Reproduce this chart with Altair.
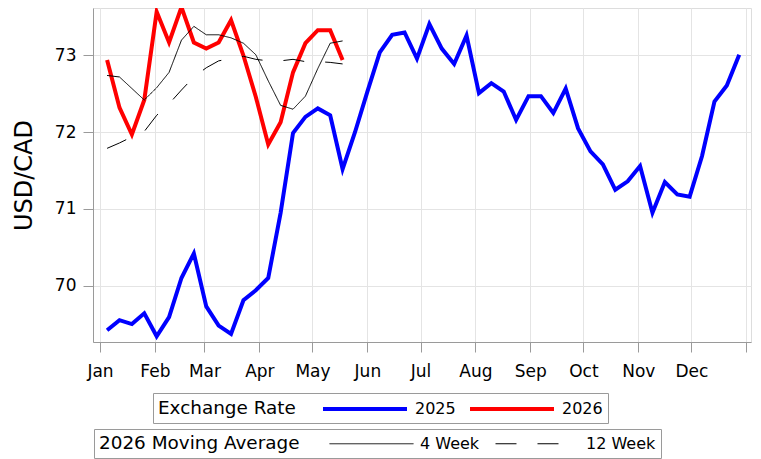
import altair as alt
import pandas as pd

# ---- data ----
week_dates = [d.strftime("%Y-%m-%d") for d in pd.date_range("2025-01-05", periods=52, freq="7D")]

usd_cad_2025 = [69.42, 69.55, 69.50, 69.64, 69.34, 69.59, 70.10, 70.42, 69.73, 69.48,
                69.37, 69.81, 69.94, 70.10, 70.95, 71.99, 72.20, 72.31, 72.22, 71.52,
                72.00, 72.53, 73.04, 73.27, 73.30, 72.96, 73.41, 73.09, 72.89, 73.26,
                72.51, 72.64, 72.53, 72.16, 72.47, 72.47, 72.25, 72.57, 72.05, 71.75,
                71.58, 71.25, 71.36, 71.56, 70.95, 71.35, 71.19, 71.16, 71.69, 72.40,
                72.61, 73.01]
usd_cad_2026 = [72.94, 72.32, 71.97, 72.42, 73.57, 73.17, 73.63, 73.17, 73.09, 73.17,
                73.46, 73.00, 72.46, 71.84, 72.13, 72.78, 73.16, 73.33, 73.33, 72.94]
ma4_2026 = [72.74, 72.72, 72.57, 72.42, 72.58, 72.78, 73.20, 73.38, 73.27, 73.27,
            73.23, 73.16, 73.01, 72.67, 72.35, 72.30, 72.47, 72.83, 73.16, 73.19]
ma12_2026 = [71.79, 71.86, 71.94, 72.01, 72.22, 72.37, 72.55, 72.72, 72.84, 72.93,
             72.96, 72.99, 72.95, 72.93, 72.93, 72.95, 72.92, 72.92, 72.91, 72.89]

series_names = ["2025", "2026"]
ma_names = ["4 Week", "12 Week"]
month_starts = [f"2025-{m:02d}-01" for m in range(1, 13)] + ["2026-01-01"]
y_ticks = [70, 71, 72, 73]

# ---- tables ----
rate_df = pd.concat([
    pd.DataFrame({"date": week_dates, "value": usd_cad_2025, "series": "2025"}),
    pd.DataFrame({"date": week_dates[:len(usd_cad_2026)], "value": usd_cad_2026, "series": "2026"}),
])
ma_df = pd.concat([
    pd.DataFrame({"date": week_dates[:len(ma4_2026)], "value": ma4_2026, "ma": "4 Week"}),
    pd.DataFrame({"date": week_dates[:len(ma12_2026)], "value": ma12_2026, "ma": "12 Week"}),
])


def ms(s):
    return int(pd.Timestamp(s).tz_localize("UTC").value // 10**6)


FONT = "DejaVu Sans"
GRAY = "#9a9a9a"
# legend symbol: a horizontal line 84 px long in a ~18 px symbol cell
SYMBOL_PATH = "M-1,0H8.333"
SYMBOL_SIZE = 324

x_scale = alt.Scale(type="utc", domain=[ms("2024-12-28 01:00"), ms("2026-01-03 15:30")])
y_scale = alt.Scale(domain=[69.266, 73.619], nice=False, zero=False)

x_axis = alt.Axis(values=[ms(s) for s in month_starts],
                  labelExpr="utcyear(datum.value) > 2025 ? '' : utcFormat(datum.value, '%b')",
                  title=None, grid=True, gridColor="#e4e4e4", tickSize=10, tickColor=GRAY,
                  domainColor=GRAY, labelFontSize=17, labelFont=FONT, labelColor="black",
                  labelPadding=11, labelFlush=False, labelOverlap=False)
y_axis = alt.Axis(values=y_ticks, format="d", title="USD/CAD", grid=True, gridColor="#e4e4e4",
                  tickSize=10, tickColor=GRAY, domainColor=GRAY, labelFontSize=17,
                  labelFont=FONT, labelColor="black", labelPadding=7,
                  titleFontSize=24, titleFont=FONT, titleFontWeight="normal",
                  titleColor="black", titlePadding=18)


def legend(title, x, y, title_pad, stroke_width, extra=None):
    opts = dict(title=title, orient="none", legendX=x, legendY=y, direction="horizontal",
                titleOrient="left", titleAnchor="middle", titleBaseline="middle",
                titleFontSize=18.4, titleFont=FONT, titleFontWeight="normal",
                titleColor="black", titlePadding=title_pad, titleLimit=400,
                labelFontSize=16, labelFont=FONT, labelColor="black",
                labelOffset=72, symbolType=SYMBOL_PATH, symbolSize=SYMBOL_SIZE,
                symbolStrokeWidth=stroke_width, columnPadding=6, padding=5,
                strokeColor=GRAY)
    if extra:
        opts.update(extra)
    return alt.Legend(**opts)


rate_lines = alt.Chart(rate_df).mark_line(strokeWidth=4, clip=False).encode(
    x=alt.X("date:T", scale=x_scale, axis=x_axis),
    y=alt.Y("value:Q", scale=y_scale, axis=y_axis),
    color=alt.Color("series:N",
                    scale=alt.Scale(domain=series_names, range=["#0000ff", "#ff0000"]),
                    legend=legend("Exchange Rate", 60, 385, 25, 4)),
)

ma_lines = alt.Chart(ma_df).mark_line(strokeWidth=1, color="black", clip=False).encode(
    x="date:T",
    y="value:Q",
    strokeDash=alt.StrokeDash("ma:N",
                              scale=alt.Scale(domain=ma_names, range=[[1, 0], [21, 21]]),
                              legend=legend("2026 Moving Average", 1, 421, 29, 1,
                                            {"symbolStrokeColor": "black",
                                             "columnPadding": 13})),
)

chart = alt.layer(rate_lines, ma_lines).properties(
    width=658, height=334,
    autosize=alt.AutoSizeParams(type="none"),
    padding={"left": 85, "top": 0, "right": 2, "bottom": 117},
).configure_view(stroke=GRAY, strokeWidth=1).configure(background="white")

chart.save("out.html", embed_options={"renderer": "svg", "actions": False})
